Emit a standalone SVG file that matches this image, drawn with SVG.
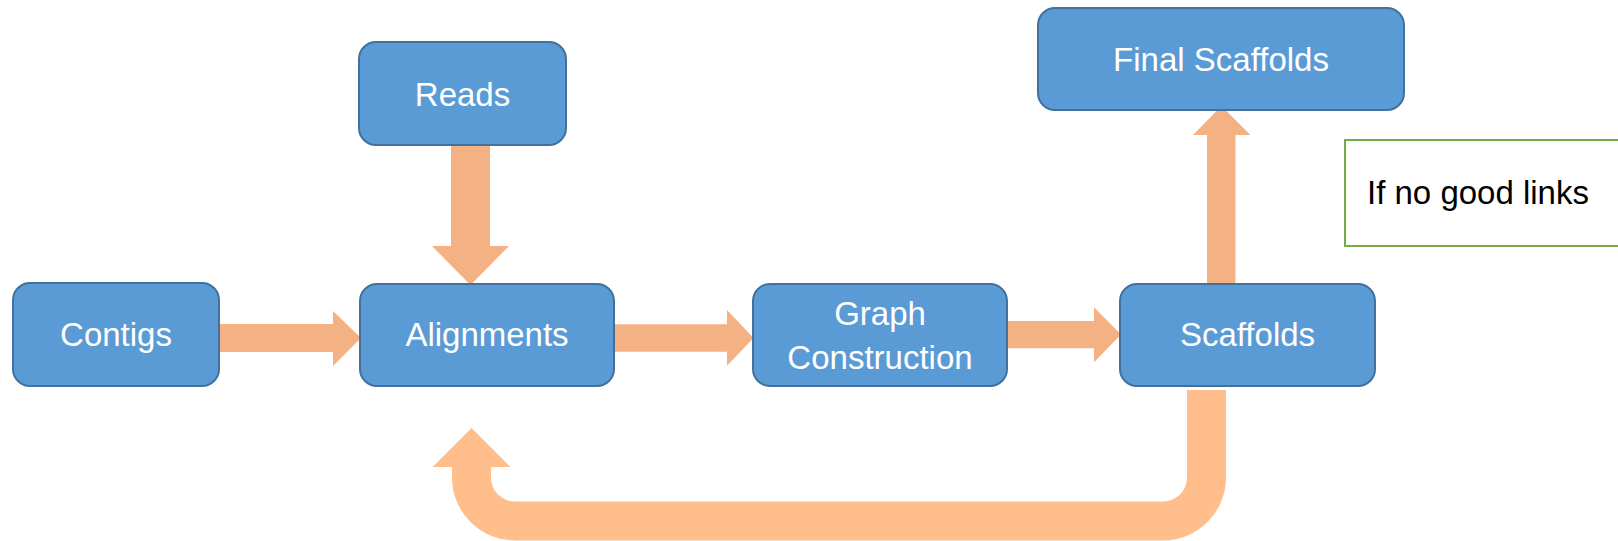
<svg xmlns="http://www.w3.org/2000/svg" width="1618" height="541" viewBox="0 0 1618 541">
<style>
.box{fill:#5B9BD5;stroke:#41719C;stroke-width:2}
.lbl{font-family:"Liberation Sans",Arial,sans-serif;font-size:33px;fill:#FFFFFF;text-anchor:middle}
.arr{fill:#F4B183}
.uturn{fill:#FFBE8C}
.note{fill:#FFFFFF;stroke:#70AD47;stroke-width:2}
.notetxt{font-family:"Liberation Sans",Arial,sans-serif;font-size:33px;fill:#000000}
</style>
<rect width="1618" height="541" fill="#FFFFFF"/>
<g id="connectors">
<polygon class="arr" points="220,324 333,324 333,311 361,338 333,366 333,352 220,352"/>
<polygon class="arr" points="451,146 490,146 490,246 509,246 470.5,285 432,246 451,246"/>
<polygon class="arr" points="615,324.3 727,324.3 727,310 753.5,338 727,365.7 727,351.7 615,351.7"/>
<polygon class="arr" points="1008,321 1094,321 1094,307.3 1121,334.5 1094,362.3 1094,348.3 1008,348.3"/>
<polygon class="arr" points="1207,283 1207,135 1193,135 1221.5,106 1250.5,135 1235.5,135 1235.5,283"/>
<path class="uturn" d="M1187 390 L1187 477.5 A24 24 0 0 1 1163 501.5 L515 501.5 A24 24 0 0 1 491 477.5 L491 467 L510.5 467 L471.5 428 L432.5 467 L452 467 L452 477.5 A63 63 0 0 0 515 540.5 L1163 540.5 A63 63 0 0 0 1226 477.5 L1226 390 Z"/>
</g>
<g id="contigs">
<rect class="box" x="13" y="283" width="206" height="103" rx="17"/>
<text class="lbl" x="116" y="346">Contigs</text>
</g>
<g id="reads">
<rect class="box" x="359" y="42" width="207" height="103" rx="17"/>
<text class="lbl" x="462.5" y="105.5">Reads</text>
</g>
<g id="alignments">
<rect class="box" x="360" y="284" width="254" height="102" rx="17"/>
<text class="lbl" x="487" y="346">Alignments</text>
</g>
<g id="graph-construction">
<rect class="box" x="753" y="284" width="254" height="102" rx="17"/>
<text class="lbl" x="880" y="325">Graph</text>
<text class="lbl" x="880" y="369">Construction</text>
</g>
<g id="scaffolds">
<rect class="box" x="1120" y="284" width="255" height="102" rx="17"/>
<text class="lbl" x="1247.5" y="346">Scaffolds</text>
</g>
<g id="final-scaffolds">
<rect class="box" x="1038" y="8" width="366" height="102" rx="17"/>
<text class="lbl" x="1221" y="71">Final Scaffolds</text>
</g>
<g id="note">
<rect class="note" x="1345" y="140" width="290" height="106"/>
<text class="notetxt" x="1367" y="204">If no good links</text>
</g>
</svg>
